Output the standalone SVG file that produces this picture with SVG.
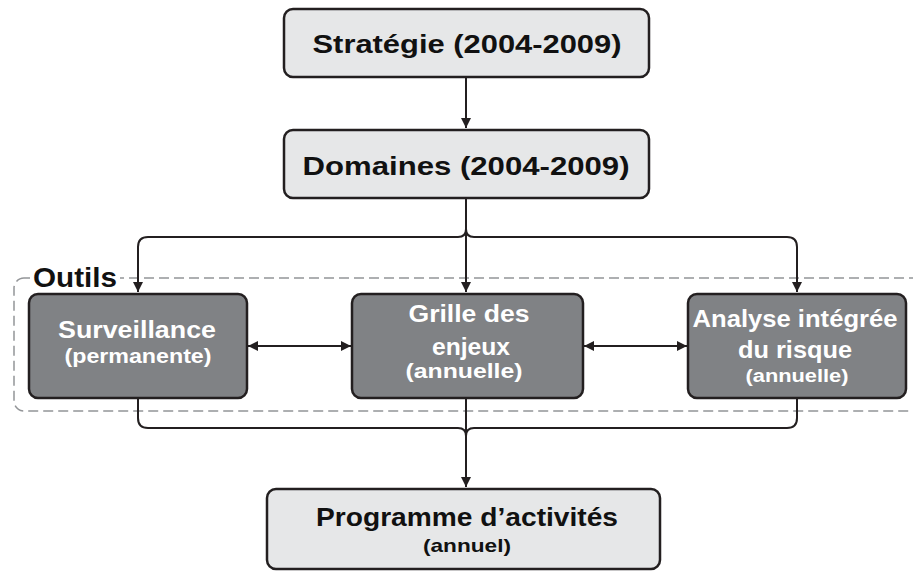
<svg xmlns="http://www.w3.org/2000/svg" width="913" height="574" viewBox="0 0 913 574">
<style>
.light{fill:#e6e7e8;stroke:#231f20;stroke-width:2.5}
.dark{fill:#808285;stroke:#231f20;stroke-width:2.5}
.tb{font-family:"Liberation Sans",Arial,sans-serif;font-weight:bold;text-anchor:middle}
.blk{fill:#111}
.wht{fill:#fff}
.c{fill:none;stroke:#231f20;stroke-width:2}
</style>
<defs>
<marker id="ah" viewBox="0 0 10 10" refX="10" refY="5" markerWidth="10" markerHeight="10" markerUnits="userSpaceOnUse" orient="auto-start-reverse">
<path d="M0,0 L10,5 L0,10 Z" fill="#231f20"/>
</marker>
</defs>
<g id="outils">
<rect x="14" y="278" width="930" height="133" rx="10" fill="none" stroke="#939598" stroke-width="1.5" stroke-dasharray="10,5"/>
<rect x="30" y="262" width="90" height="24" fill="#fff"/>
<text x="33" y="287" font-family="Liberation Sans,Arial,sans-serif" font-weight="bold" font-size="27" fill="#111" textLength="84" lengthAdjust="spacingAndGlyphs">Outils</text>
</g>
<g id="connectors">
<line class="c" x1="466" y1="77" x2="466" y2="128" marker-end="url(#ah)"/>
<path class="c" d="M466,198 V229 Q466,237 458,237 H148 Q138,237 138,247 V292" marker-end="url(#ah)"/>
<path class="c" d="M466,229 Q466,237 474,237 H787 Q797,237 797,247 V292" marker-end="url(#ah)"/>
<line class="c" x1="466" y1="229" x2="466" y2="292" marker-end="url(#ah)"/>
<line class="c" x1="248" y1="346" x2="351" y2="346" marker-start="url(#ah)" marker-end="url(#ah)"/>
<line class="c" x1="584" y1="346" x2="687" y2="346" marker-start="url(#ah)" marker-end="url(#ah)"/>
<path class="c" d="M138,398 V418 Q138,428 148,428 H458 Q466,428 466,436 V487" marker-end="url(#ah)"/>
<path class="c" d="M797,398 V418 Q797,428 787,428 H474 Q466,428 466,436"/>
<line class="c" x1="466" y1="398" x2="466" y2="436"/>
</g>
<g id="strategie">
<rect class="light" x="284" y="9" width="365" height="68" rx="9"/>
<text class="tb blk" x="467" y="53" font-size="26" textLength="309" lengthAdjust="spacingAndGlyphs">Stratégie (2004-2009)</text>
</g>
<g id="domaines">
<rect class="light" x="284" y="130" width="365" height="68" rx="9"/>
<text class="tb blk" x="466" y="175" font-size="26" textLength="327" lengthAdjust="spacingAndGlyphs">Domaines (2004-2009)</text>
</g>
<g id="surveillance">
<rect class="dark" x="29" y="294" width="218" height="104" rx="9"/>
<text class="tb wht" x="137" y="338" font-size="24" textLength="158" lengthAdjust="spacingAndGlyphs">Surveillance</text>
<text class="tb wht" x="138" y="363" font-size="20" textLength="147" lengthAdjust="spacingAndGlyphs">(permanente)</text>
</g>
<g id="grille">
<rect class="dark" x="352" y="294" width="231" height="104" rx="9"/>
<text class="tb wht" x="469" y="322" font-size="24" textLength="121" lengthAdjust="spacingAndGlyphs">Grille des</text>
<text class="tb wht" x="471" y="355" font-size="24" textLength="78" lengthAdjust="spacingAndGlyphs">enjeux</text>
<text class="tb wht" x="464" y="378" font-size="20" textLength="117" lengthAdjust="spacingAndGlyphs">(annuelle)</text>
</g>
<g id="analyse">
<rect class="dark" x="688" y="294" width="218" height="104" rx="9"/>
<text class="tb wht" x="795" y="327" font-size="24" textLength="205" lengthAdjust="spacingAndGlyphs">Analyse intégrée</text>
<text class="tb wht" x="795" y="358" font-size="24" textLength="114" lengthAdjust="spacingAndGlyphs">du risque</text>
<text class="tb wht" x="797" y="382" font-size="18" textLength="103" lengthAdjust="spacingAndGlyphs">(annuelle)</text>
</g>
<g id="programme">
<rect class="light" x="267" y="489" width="393" height="80" rx="9"/>
<text class="tb blk" x="467" y="526" font-size="26" textLength="302" lengthAdjust="spacingAndGlyphs">Programme d’activités</text>
<text class="tb blk" x="467" y="552" font-size="19" textLength="88" lengthAdjust="spacingAndGlyphs">(annuel)</text>
</g>
</svg>
